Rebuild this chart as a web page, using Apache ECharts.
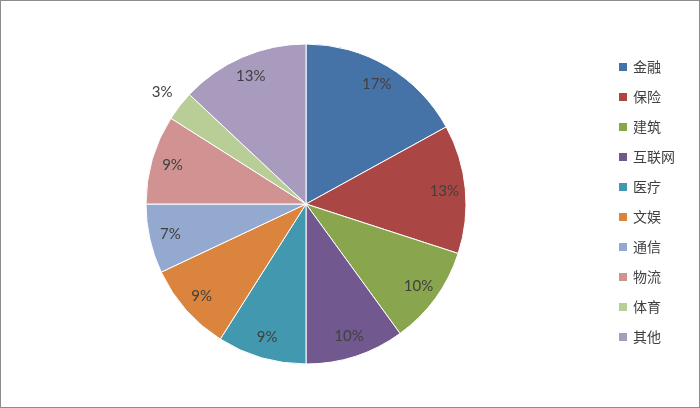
<!DOCTYPE html>
<html>
<head>
<meta charset="utf-8">
<script src="https://cdn.jsdelivr.net/npm/echarts@6/dist/echarts.min.js"></script>
<style>
html,body{margin:0;padding:0;background:#fff;}
#chart{position:absolute;left:0;top:0;width:700px;height:408px;}
#frame{position:absolute;left:0;top:0;width:698px;height:406px;border:1px solid #8c8c8c;pointer-events:none;}
</style>
</head>
<body>
<div id="chart"></div>
<div id="frame"></div>
<script>
const categories = ['金融','保险','建筑','互联网','医疗','文娱','通信','物流','体育','其他'];
const values = [17,13,10,10,9,9,7,9,3,13];
const colors = ['#4572A7','#AA4643','#89A54E','#71588F','#4198AF','#DB843D','#93A9CF','#D19392','#B9CD96','#A99BBD'];
const outsideLabels = ['体育'];

const pieData = categories.map((c,i)=>({name:c, value:values[i], itemStyle:{color:colors[i]}}));
const labelFont = {fontFamily:'Lato, "Open Sans", sans-serif', fontSize:15, color:'#404040'};

const chart = echarts.init(document.getElementById('chart'));
chart.setOption({
  animation:false,
  legend:{
    orient:'vertical', left:612, top:55,
    icon:'rect', itemWidth:10, itemHeight:10, itemGap:16,
    textStyle:{fontFamily:'"Noto Sans CJK SC", sans-serif', fontSize:14, color:'#404040', lineHeight:14},
    data:categories
  },
  series:[
    {
      type:'pie', center:[306,204], radius:[0,160], startAngle:90, clockwise:true,
      data:pieData, itemStyle:{borderColor:'#fff', borderWidth:1},
      label:{show:false}, labelLine:{show:false}, emphasis:{disabled:true}
    },
    {
      type:'pie', center:[306,204], radius:[112,160], startAngle:90, clockwise:true, silent:true,
      data:categories.map((c,i)=>({name:c, value:values[i], label:{show: outsideLabels.indexOf(c)<0}})),
      itemStyle:{color:'transparent', borderWidth:0},
      label:Object.assign({show:true, position:'inside', formatter:'{c}%'}, labelFont),
      labelLine:{show:false}, emphasis:{disabled:true}
    },
    {
      type:'pie', center:[306,204], radius:[162,196], startAngle:90, clockwise:true, silent:true,
      data:categories.map((c,i)=>({name:c, value:values[i], label:{show: outsideLabels.indexOf(c)>=0}})),
      itemStyle:{color:'transparent', borderWidth:0},
      label:Object.assign({show:true, position:'inside', formatter:'{c}%'}, labelFont),
      labelLine:{show:false}, emphasis:{disabled:true}
    }
  ]
});
</script>
</body>
</html>
